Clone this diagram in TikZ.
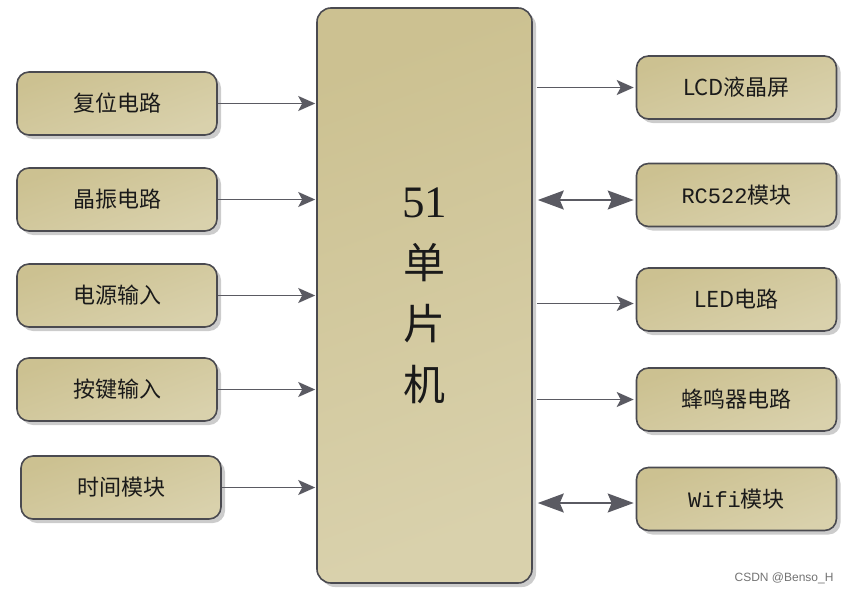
\documentclass[tikz,border=0pt]{standalone}
\usepackage{fontspec}
\setmainfont{Liberation Serif}
\newfontfamily\cjk{Noto Sans CJK SC}
\newfontfamily\mono{Liberation Mono}
\newfontfamily\wmfont{Liberation Sans}
\usetikzlibrary{arrows.meta,shadows}
\definecolor{boxtop}{HTML}{CCC191}
\definecolor{boxbot}{HTML}{D9D1AC}
\definecolor{boxline}{HTML}{4A4A50}
\definecolor{arrcol}{HTML}{5A5A62}
\definecolor{txt}{HTML}{1A1A1A}
\tikzset{
  box/.style={rounded corners=12pt, draw=boxline, line width=1.6pt,
    top color=boxtop, bottom color=boxbot, shading angle=20,
    minimum width=200pt, minimum height=63pt, inner sep=0pt,
    drop shadow={shadow xshift=4pt, shadow yshift=-4pt, fill=black!20, opacity=1},
    font=\cjk\fontsize{22}{26}\selectfont, text=txt},
  mainbox/.style={box, minimum width=215pt, minimum height=575pt,
    rounded corners=14pt, font=\cjk\fontsize{42}{61}\selectfont, align=center},
  arr/.style={draw=arrcol, line width=1.9pt, -{Stealth[length=17pt,width=15pt,inset=4pt]}},
  darr/.style={draw=arrcol, line width=1.9pt,
    {Stealth[length=26pt,width=19pt,inset=4pt]}-{Stealth[length=26pt,width=19pt,inset=4pt]}}
}
\begin{document}
\begin{tikzpicture}[x=1pt,y=-1pt]
\useasboundingbox (0,0) rectangle (851,594);
\node[mainbox] (c) at (424.5,295.5) {{\rmfamily\fontsize{45}{61}\selectfont 51}\\单\\片\\机};
% left boxes
\node[box] (l1) at (117,103.5) {复位电路};
\node[box] (l2) at (117,199.5) {晶振电路};
\node[box] (l3) at (117,295.5) {电源输入};
\node[box] (l4) at (117,389.5) {按键输入};
\node[box] (l5) at (121,487.5) {时间模块};
% right boxes
\node[box] (r1) at (736.5,87.5) {LCD液晶屏};
\node[box] (r2) at (736.5,195) {{\mono RC522}模块};
\node[box] (r3) at (736.5,299.5) {LED电路};
\node[box] (r4) at (736.5,399.5) {蜂鸣器电路};
\node[box] (r5) at (736.5,499) {{\mono Wifi}模块};
% left arrows
\foreach \i in {1,...,5}{
  \draw[arr] (l\i.east) -- ([xshift=-1pt]l\i.east -| c.west);
}
% right arrows
\draw[arr] ([xshift=4pt]r1.west -| c.east) -- ([xshift=-2pt]r1.west);
\draw[darr] ([xshift=5pt,yshift=-5pt]r2.west -| c.east) -- ([xshift=-2pt,yshift=-5pt]r2.west);
\draw[arr] ([xshift=4pt,yshift=-4pt]r3.west -| c.east) -- ([xshift=-2pt,yshift=-4pt]r3.west);
\draw[arr] ([xshift=4pt]r4.west -| c.east) -- ([xshift=-2pt]r4.west);
\draw[darr] ([xshift=5pt,yshift=-4pt]r5.west -| c.east) -- ([xshift=-2pt,yshift=-4pt]r5.west);
\node[font=\wmfont\fontsize{12}{14}\selectfont, text=black!55, anchor=east] (wm) at (837,578) {CSDN @Benso\_H};
\end{tikzpicture}
\end{document}
